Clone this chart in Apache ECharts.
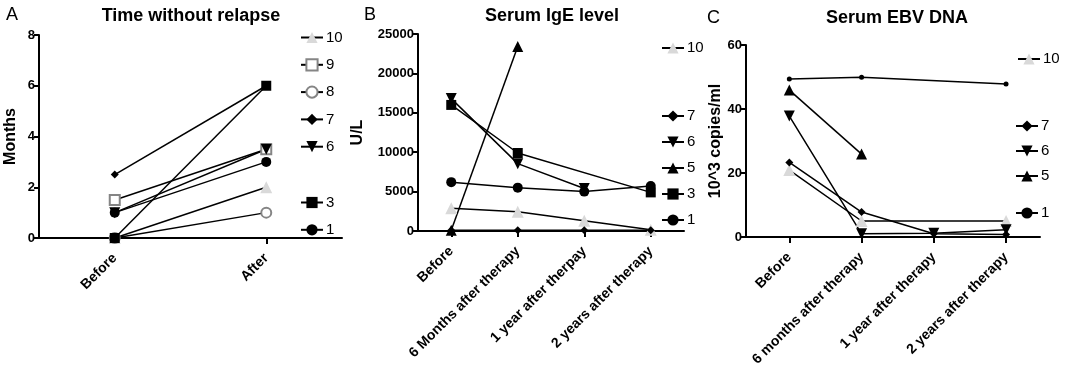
<!DOCTYPE html>
<html>
<head>
<meta charset="utf-8">
<script src="https://cdn.jsdelivr.net/npm/echarts/dist/echarts.min.js"></script>
<style>
html,body{margin:0;padding:0;background:#fff;}
#c{width:1067px;height:372px;}
</style>
</head>
<body>
<div id="c"></div>
<script>
// ---------- DATA ----------
const catsA = ['Before', 'After'];
const catsB = ['Before', '6 Months after therapy', '1 year after therpay', '2 years after therapy'];
const catsC = ['Before', '6 months after therapy', '1 year after therapy', '2 years after therapy'];

const yTicksA = [0, 2, 4, 6, 8];
const yTicksB = [0, 5000, 10000, 15000, 20000, 25000];
const yTicksC = [0, 20, 40, 60];

// Panel A: Time without relapse (months)
const idsA = ['10', '9', '8', '7', '6', '3', '1'];
const a10 = [0, 2];
const a9 = [1.5, 3.5];
const a8 = [0, 1];
const a7 = [2.5, 6];
const a6 = [1, 3.5];
const a3 = [0, 6];
const a1 = [1, 3];

// Panel B: Serum IgE level (U/L)
const idsB = ['10', '7', '6', '5', '3', '1'];
const b10 = [2900, 2450, 1300, 150];
const b7 = [100, 100, 100, 100];
const b6 = [16800, 8550, 5400, null];
const b5 = [100, 23400, null, null];
const b3 = [16000, 9900, null, 4900];
const b1 = [6200, 5500, 5000, 5700];

// Panel C: Serum EBV DNA (10^3 copies/ml)
const idsC = ['10', '7', '6', '5', '1'];
const c10 = [20.9, 5, null, 5];
const c7 = [23.3, 7.8, 1, 0.8];
const c6 = [37.8, 1, 1.2, 2.3];
const c5 = [45.9, 25.9, null, null];
const c1 = [49.4, 49.9, null, 47.8];

// ---------- STYLE ----------
const FONT = '"Liberation Sans", Arial, sans-serif';
const LIGHT = '#d9d9d9';
const GRAY = '#858585';
function symStyle(id, panel) {
  switch (id) {
    case '10': return {symbol: 'triangle', size: 12, color: LIGHT, rot: 0};
    case '9': return {symbol: 'emptyRect', size: 10, color: GRAY, rot: 0, bw: 2.5};
    case '8': return {symbol: 'emptyCircle', size: 10, color: GRAY, rot: 0, bw: 2.5};
    case '7': return {symbol: 'diamond', size: 8, color: '#000', rot: 0};
    case '6': return {symbol: 'triangle', size: 11, color: '#000', rot: 180};
    case '5': return {symbol: 'triangle', size: 11, color: '#000', rot: 0};
    case '3': return {symbol: 'rect', size: 10, color: '#000', rot: 0};
    case '1': return panel === 'C' ? {symbol: 'circle', size: 5, color: '#000', rot: 0}
                                   : {symbol: 'circle', size: 10, color: '#000', rot: 0};
  }
}
function mkSeries(panel, id, data, gi) {
  const s = symStyle(id, panel);
  let d = data;
  if (panel === 'C') d = data.map((v, i) => [i, v]).filter(p => p[1] != null);
  return {
    name: panel + '-' + id,
    type: 'line',
    xAxisIndex: gi, yAxisIndex: gi,
    data: d,
    connectNulls: true,
    symbol: s.symbol,
    symbolSize: s.size,
    symbolRotate: s.rot,
    showAllSymbol: true,
    lineStyle: {color: '#000', width: 1.5},
    itemStyle: {color: s.color, borderColor: s.color, borderWidth: s.bw || 0},
    emphasis: {disabled: true},
    z: 3
  };
}

const series = [];
const dataA = {'10': a10, '9': a9, '8': a8, '7': a7, '6': a6, '3': a3, '1': a1};
const dataB = {'10': b10, '7': b7, '6': b6, '5': b5, '3': b3, '1': b1};
const dataC = {'10': c10, '7': c7, '6': c6, '5': c5, '1': c1};
idsA.forEach(id => series.push(mkSeries('A', id, dataA[id], 0)));
idsB.forEach(id => series.push(mkSeries('B', id, dataB[id], 1)));
idsC.forEach(id => series.push(mkSeries('C', id, dataC[id], 2)));

const axisLineStyle = {show: true, onZero: false, lineStyle: {color: '#000', width: 2}};
const tickStyle = {show: true, length: 5, lineStyle: {color: '#000', width: 2}};
const yLabel = {color: '#000', fontSize: 13, fontWeight: 'bold', fontFamily: FONT, margin: 4, formatter: v => String(v)};
const xLabel = {color: '#000', fontSize: 14, fontWeight: 'bold', fontFamily: FONT, rotate: 45, margin: 18, interval: 0};
const nameStyle = {color: '#000', fontSize: 16, fontWeight: 'bold', fontFamily: FONT};

function yAxis(gi, ticks, name, gap) {
  return {
    type: 'value', gridIndex: gi,
    min: ticks[0], max: ticks[ticks.length - 1], interval: ticks[1] - ticks[0],
    name: name, nameLocation: 'middle', nameGap: gap, nameTextStyle: nameStyle,
    axisLine: axisLineStyle, axisTick: tickStyle, axisLabel: yLabel,
    splitLine: {show: false}
  };
}

const legendCommon = {
  orient: 'vertical', selectedMode: false, padding: 0,
  itemWidth: 22, itemHeight: 14,
  formatter: n => n.split('-')[1],
  textStyle: {color: '#000', fontSize: 15, fontFamily: FONT, lineHeight: 14, padding: [0, 0, 0, -2]}
};
function lg(data, left, top, gap) {
  return Object.assign({}, legendCommon, {data: data, left: left, top: top, itemGap: gap});
}

const option = {
  animation: false,
  backgroundColor: '#fff',
  grid: [
    {left: 39, top: 35, width: 303, height: 203},
    {left: 418, top: 34, width: 266, height: 197},
    {left: 746, top: 45, width: 294, height: 192}
  ],
  xAxis: [
    {type: 'category', gridIndex: 0, data: catsA, boundaryGap: true,
     axisLine: axisLineStyle, axisTick: Object.assign({alignWithLabel: true}, tickStyle, {length: 6}),
     axisLabel: xLabel},
    {type: 'category', gridIndex: 1, data: catsB, boundaryGap: true,
     axisLine: axisLineStyle, axisTick: Object.assign({alignWithLabel: true}, tickStyle, {length: 6}),
     axisLabel: xLabel},
    {type: 'value', gridIndex: 2, min: -0.6, max: 3.47, splitLine: {show: false},
     axisLine: axisLineStyle,
     axisTick: Object.assign({customValues: [0, 1, 2, 3]}, tickStyle, {length: 6}),
     axisLabel: Object.assign({}, xLabel, {customValues: [0, 1, 2, 3], formatter: v => catsC[Math.round(v)]})}
  ],
  yAxis: [
    yAxis(0, yTicksA, 'Months', 20),
    yAxis(1, yTicksB, 'U/L', 52),
    yAxis(2, yTicksC, '10^3 copies/ml', 22)
  ],
  legend: [
    lg(['A-10', 'A-9', 'A-8', 'A-7', 'A-6'], 300, 30, 12.3),
    lg(['A-3', 'A-1'], 300, 195, 12.3),
    lg(['B-10'], 661, 40.5, 11),
    lg(['B-7', 'B-6', 'B-5', 'B-3', 'B-1'], 661, 108.5, 11),
    lg(['C-10'], 1017, 51.5, 10),
    lg(['C-7', 'C-6', 'C-5'], 1015, 118.5, 10),
    lg(['C-1'], 1015, 205.5, 10)
  ],
  graphic: [
    {type: 'text', left: 6, top: 6, style: {text: 'A', font: '18px ' + FONT, fill: '#000'}},
    {type: 'text', left: 364, top: 6, style: {text: 'B', font: '18px ' + FONT, fill: '#000'}},
    {type: 'text', left: 707, top: 9, style: {text: 'C', font: '18px ' + FONT, fill: '#000'}},
    {type: 'text', x: 191, y: 16, style: {text: 'Time without relapse', font: 'bold 18px ' + FONT, fill: '#000', textAlign: 'center', textVerticalAlign: 'middle'}},
    {type: 'text', x: 552, y: 16, style: {text: 'Serum IgE level', font: 'bold 18px ' + FONT, fill: '#000', textAlign: 'center', textVerticalAlign: 'middle'}},
    {type: 'text', x: 897, y: 18, style: {text: 'Serum EBV DNA', font: 'bold 18px ' + FONT, fill: '#000', textAlign: 'center', textVerticalAlign: 'middle'}}
  ],
  series: series
};

const chart = echarts.init(document.getElementById('c'), null, {renderer: 'canvas'});
chart.setOption(option);
</script>
</body>
</html>
